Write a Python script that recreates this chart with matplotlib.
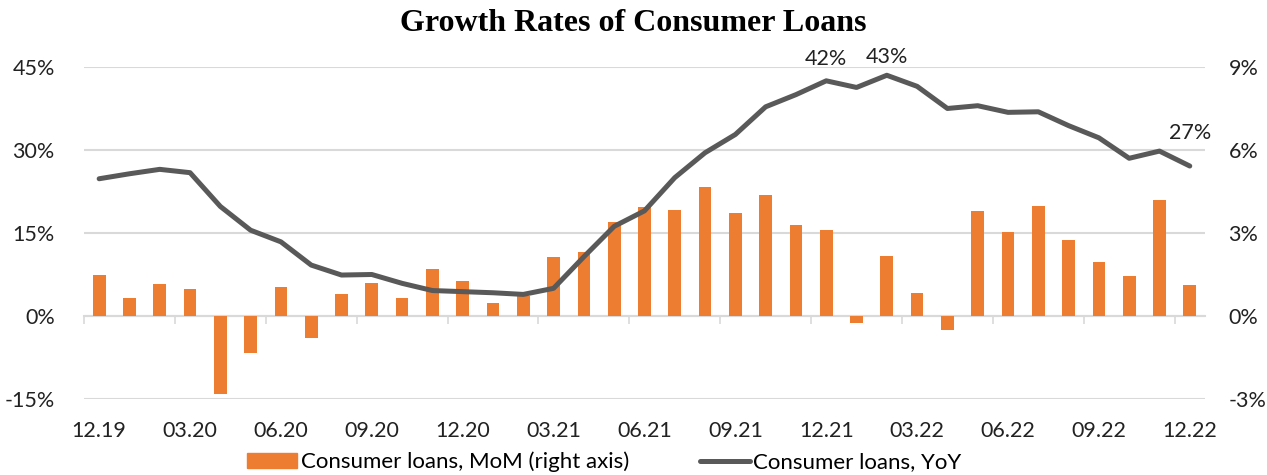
import numpy as np
import matplotlib.pyplot as plt

# monthly observations, Dec 2019 .. Dec 2022
months = ['12.19', '01.20', '02.20', '03.20', '04.20', '05.20', '06.20', '07.20', '08.20',
          '09.20', '10.20', '11.20', '12.20', '01.21', '02.21', '03.21', '04.21', '05.21',
          '06.21', '07.21', '08.21', '09.21', '10.21', '11.21', '12.21', '01.22', '02.22',
          '03.22', '04.22', '05.22', '06.22', '07.22', '08.22', '09.22', '10.22', '11.22',
          '12.22']

# consumer loans, month-on-month growth, % (right axis)
mom = [1.47, 0.66, 1.16, 0.99, -2.83, -1.33, 1.06, -0.78, 0.80, 1.18, 0.66, 1.70,
       1.27, 0.46, 0.72, 2.15, 2.33, 3.39, 3.93, 3.83, 4.66, 3.74, 4.36, 3.28,
       3.09, -0.24, 2.18, 0.82, -0.52, 3.81, 3.04, 3.96, 2.74, 1.95, 1.46, 4.18,
       1.11]

# consumer loans, year-on-year growth, % (left axis)
yoy = [24.8, 25.7, 26.5, 25.9, 19.8, 15.5, 13.4, 9.2, 7.4, 7.5, 5.9, 4.6,
       4.4, 4.2, 3.9, 5.0, 10.7, 16.2, 19.0, 25.0, 29.5, 32.8, 37.8, 40.0,
       42.5, 41.3, 43.5, 41.5, 37.5, 38.0, 36.8, 36.9, 34.4, 32.2, 28.5, 29.8,
       27.1]

# points with value callouts: (index, text, offset in points)
callouts = [(24, '42%', 16), (26, '43%', 13), (36, '27%', 24)]

plt.rcParams['font.family'] = ['Lato', 'DejaVu Sans']
plt.rcParams['font.size'] = 15.5

orange = '#ED7D31'
dark = '#595959'
grid = '#D9D9D9'

x = np.arange(len(months))

fig = plt.figure(figsize=(12.67, 4.75), dpi=100)
ax = fig.add_axes([0.0663, 0.16, 0.8847, 0.699])
ax2 = ax.twinx()

# bars on the right scale, kept underneath the line
ax2.bar(x, mom, width=0.42, color=orange, zorder=2)
ax2.set_ylim(-3, 9)
ax2.set_yticks([-3, 0, 3, 6, 9])
ax2.set_yticklabels([f'{v}%' for v in [-3, 0, 3, 6, 9]])
ax2.grid(axis='y', color=grid, linewidth=1.5, zorder=0)
ax2.set_axisbelow(True)

ax.plot(x, yoy, color=dark, linewidth=3.6, solid_capstyle='round',
        solid_joinstyle='round', zorder=3)
ax.set_ylim(-15, 45)
ax.set_yticks([-15, 0, 15, 30, 45])
ax.set_yticklabels([f'{v}%' for v in [-15, 0, 15, 30, 45]])
ax.set_zorder(ax2.get_zorder() + 1)
ax.patch.set_visible(False)

for i, txt, off in callouts:
    ax.annotate(txt, (x[i], yoy[i]), xytext=(0, off), textcoords='offset points',
                ha='center', va='center', fontsize=15.5, color='#222222')

ax.set_xlim(-0.5, len(months) - 0.5)
ax.set_xticks(x[::3])
ax.set_xticklabels(months[::3])

for a in (ax, ax2):
    for s in a.spines.values():
        s.set_visible(False)
    a.tick_params(length=0, colors='#222222')
ax.tick_params(axis='y', pad=21)
ax2.tick_params(axis='y', pad=17)
ax.tick_params(axis='x', pad=16)

# zero line with tick marks between quarters
zero = ax2.secondary_xaxis(0.25)
zero.spines['bottom'].set_color(grid)
zero.spines['bottom'].set_linewidth(1.5)
zero.set_xticks(np.arange(-0.5, len(months), 3))
zero.tick_params(length=6, width=1.2, color=grid, labelbottom=False)

fig.text(0.5, 0.95, 'Growth Rates of Consumer Loans', ha='center', va='center',
         fontsize=23, fontweight='bold', family='Liberation Serif')

h1 = plt.Rectangle((0, 0), 1, 1, color=orange)
h2 = plt.Line2D([], [], color=dark, linewidth=3.6, solid_capstyle='round')
fig.legend([h1, h2], ['Consumer loans, MoM (right axis)', 'Consumer loans, YoY'],
           loc='center', bbox_to_anchor=(0.477, 0.027), ncol=2, frameon=False,
           fontsize=16, handlelength=2.25, handleheight=0.7, handletextpad=0.15,
           columnspacing=3.2)

fig.savefig('out.png', dpi=100)
